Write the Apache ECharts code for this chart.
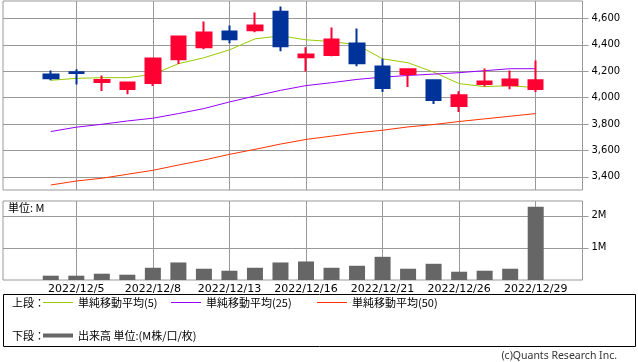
<!DOCTYPE html>
<html><head><meta charset="utf-8">
<script src="https://cdn.jsdelivr.net/npm/echarts@6/dist/echarts.min.js"></script>
<style>html,body{margin:0;padding:0;background:#fff}#c{width:638px;height:362px}</style>
</head><body><div id="c"></div>
<script>
const dates = ['2022/12/2','2022/12/5','2022/12/6','2022/12/7','2022/12/8','2022/12/9','2022/12/12','2022/12/13','2022/12/14','2022/12/15','2022/12/16','2022/12/19','2022/12/20','2022/12/21','2022/12/22','2022/12/23','2022/12/26','2022/12/27','2022/12/28','2022/12/29'];
const openP  = [4176,4193,4118,4065,4110,4291,4382,4500,4510,4651,4306,4322,4410,4236,4178,4131,3937,4103,4093,4065];
const closeP = [4146,4186,4133,4115,4297,4463,4493,4442,4546,4389,4327,4440,4261,4072,4214,3982,4017,4123,4138,4131];
const lowP   = [4131,4100,4050,4025,4088,4254,4367,4412,4495,4352,4198,4314,4238,4042,4080,3952,3891,4085,4063,4042];
const highP  = [4206,4214,4168,4115,4297,4463,4576,4546,4644,4691,4382,4531,4523,4294,4223,4138,4048,4221,4206,4282];
const ma5  = [4131,4146,4151,4151,4176,4257,4302,4362,4445,4468,4438,4425,4400,4294,4264,4193,4106,4083,4091,4075];
const ma25 = [3743,3776,3798,3823,3844,3879,3917,3967,4012,4055,4091,4113,4138,4155,4168,4178,4189,4204,4219,4219];
const ma50 = [3338,3368,3389,3419,3449,3489,3527,3570,3608,3648,3683,3708,3733,3753,3778,3796,3819,3839,3859,3879];
const volumeM = [0.134,0.134,0.196,0.165,0.381,0.546,0.351,0.289,0.381,0.546,0.577,0.381,0.443,0.722,0.351,0.505,0.258,0.289,0.351,2.278];
const xTickLabels = ['2022/12/5','2022/12/8','2022/12/13','2022/12/16','2022/12/21','2022/12/26','2022/12/29'];
const priceTicks = [3400,3600,3800,4000,4200,4400,4600];
const volumeTicks = [1,2];
const seriesNames = ['単純移動平均(5)','単純移動平均(25)','単純移動平均(50)'];
const volumeName = '出来高 単位:(M株/口/枚)';

const base = dates.indexOf(xTickLabels[0]);
const xOf = i => i - base;
const xTickPos = xTickLabels.map(d => xOf(dates.indexOf(d)));

const candleData = dates.map((d, i) => [xOf(i), openP[i], closeP[i], lowP[i], highP[i]]);
const lineData = arr => arr.map((v, i) => [xOf(i), v]);
const volData = volumeM.map((v, i) => [xOf(i), v]);

const GRID = '#999999';
const numFont = 'DejaVu Sans';
const cjkFont = 'Noto Sans CJK JP';

function xAxisCfg(gi, showLabel) {
  return {
    type: 'value', gridIndex: gi, position: 'bottom', min: -2.872, max: 19.834,
    minInterval: 3, maxInterval: 3,
    axisLine: {show: false, onZero: false},
    axisTick: {show: false, customValues: xTickPos},
    axisLabel: {show: showLabel, customValues: xTickPos, margin: 4, fontSize: 11, fontFamily: numFont, color: '#000',
      formatter: v => { const k = xTickPos.indexOf(v); return k >= 0 ? xTickLabels[k] : ''; }},
    splitLine: {show: true, lineStyle: {color: GRID, width: 1}}
  };
}
const legendText = {fontSize: 11, fontFamily: cjkFont, color: '#000'};
const legendLefts = [43, 171, 317];

const chart = echarts.init(document.getElementById('c'), null, {renderer: 'canvas'});
chart.setOption({
  animation: false,
  backgroundColor: '#fff',
  grid: [
    {left: 3, right: 55.5, top: 1, height: 189, show: true, borderColor: GRID, borderWidth: 1, backgroundColor: '#fff'},
    {left: 3, right: 55.5, top: 201, height: 79, show: true, borderColor: GRID, borderWidth: 1, backgroundColor: '#fff'}
  ],
  xAxis: [xAxisCfg(0, false), xAxisCfg(1, true)],
  yAxis: [
    {type: 'value', gridIndex: 0, position: 'right', min: 3300, max: 4732, minInterval: 200, maxInterval: 200,
      axisLine: {show: false, onZero: false},
      axisTick: {show: true, length: 6, customValues: priceTicks, lineStyle: {color: GRID}},
      axisLabel: {customValues: priceTicks, margin: 9, fontSize: 10, fontFamily: numFont, color: '#000',
        formatter: v => priceTicks.indexOf(v) >= 0 ? v.toLocaleString('en-US') : ''},
      splitLine: {show: true, lineStyle: {color: GRID}}},
    {type: 'value', gridIndex: 1, position: 'right', min: 0, max: 2.46, minInterval: 1, maxInterval: 1,
      axisLine: {show: false, onZero: false},
      axisTick: {show: true, length: 6, customValues: volumeTicks, lineStyle: {color: GRID}},
      axisLabel: {customValues: volumeTicks, margin: 9, fontSize: 10, fontFamily: numFont, color: '#000',
        formatter: v => volumeTicks.indexOf(v) >= 0 ? v + 'M' : ''},
      splitLine: {show: true, lineStyle: {color: GRID}}}
  ],
  legend: seriesNames.map((n, k) => ({data: [n], left: legendLefts[k], top: 297, padding: 0, itemWidth: 30, itemHeight: 1,
      icon: 'rect', selectedMode: false, textStyle: legendText})).concat([
    {data: [volumeName], left: 43, top: 330, padding: 0, itemWidth: 30, itemHeight: 4, icon: 'rect',
      selectedMode: false, textStyle: legendText}
  ]),
  graphic: [
    {type: 'rect', shape: {x: 3.5, y: 294.5, width: 632, height: 52}, style: {fill: 'none', stroke: '#000', lineWidth: 1}},
    {type: 'text', x: 12, y: 303, style: {text: '上段：', font: '11px "Noto Sans CJK JP"', fill: '#000', verticalAlign: 'middle'}},
    {type: 'text', x: 12, y: 336, style: {text: '下段：', font: '11px "Noto Sans CJK JP"', fill: '#000', verticalAlign: 'middle'}},
    {type: 'text', x: 8, y: 208, z: 10, style: {text: '単位: M', font: '11px "Noto Sans CJK JP"', fill: '#000', verticalAlign: 'middle'}},
    {type: 'text', x: 617, y: 356, style: {text: '(c)Quants Research Inc.', font: '10.5px "Noto Sans"', fill: '#333', align: 'right', verticalAlign: 'middle'}}
  ],
  series: [
    {name: seriesNames[0], type: 'line', xAxisIndex: 0, yAxisIndex: 0, data: lineData(ma5), showSymbol: false, color: '#99cc00', lineStyle: {width: 1, color: '#99cc00'}, z: 2},
    {name: seriesNames[1], type: 'line', xAxisIndex: 0, yAxisIndex: 0, data: lineData(ma25), showSymbol: false, color: '#9900ff', lineStyle: {width: 1, color: '#9900ff'}, z: 2},
    {name: seriesNames[2], type: 'line', xAxisIndex: 0, yAxisIndex: 0, data: lineData(ma50), showSymbol: false, color: '#ff3300', lineStyle: {width: 1, color: '#ff3300'}, z: 2},
    {name: 'price', type: 'candlestick', xAxisIndex: 0, yAxisIndex: 0, data: candleData, barWidth: 15, z: 3,
      itemStyle: {color: '#ff0033', color0: '#003399', borderColor: '#ff0033', borderColor0: '#003399', borderWidth: 2}},
    {name: volumeName, type: 'bar', xAxisIndex: 1, yAxisIndex: 1, data: volData, barWidth: 16, color: '#666666', itemStyle: {color: '#666666'}}
  ]
});
</script>
</body></html>
